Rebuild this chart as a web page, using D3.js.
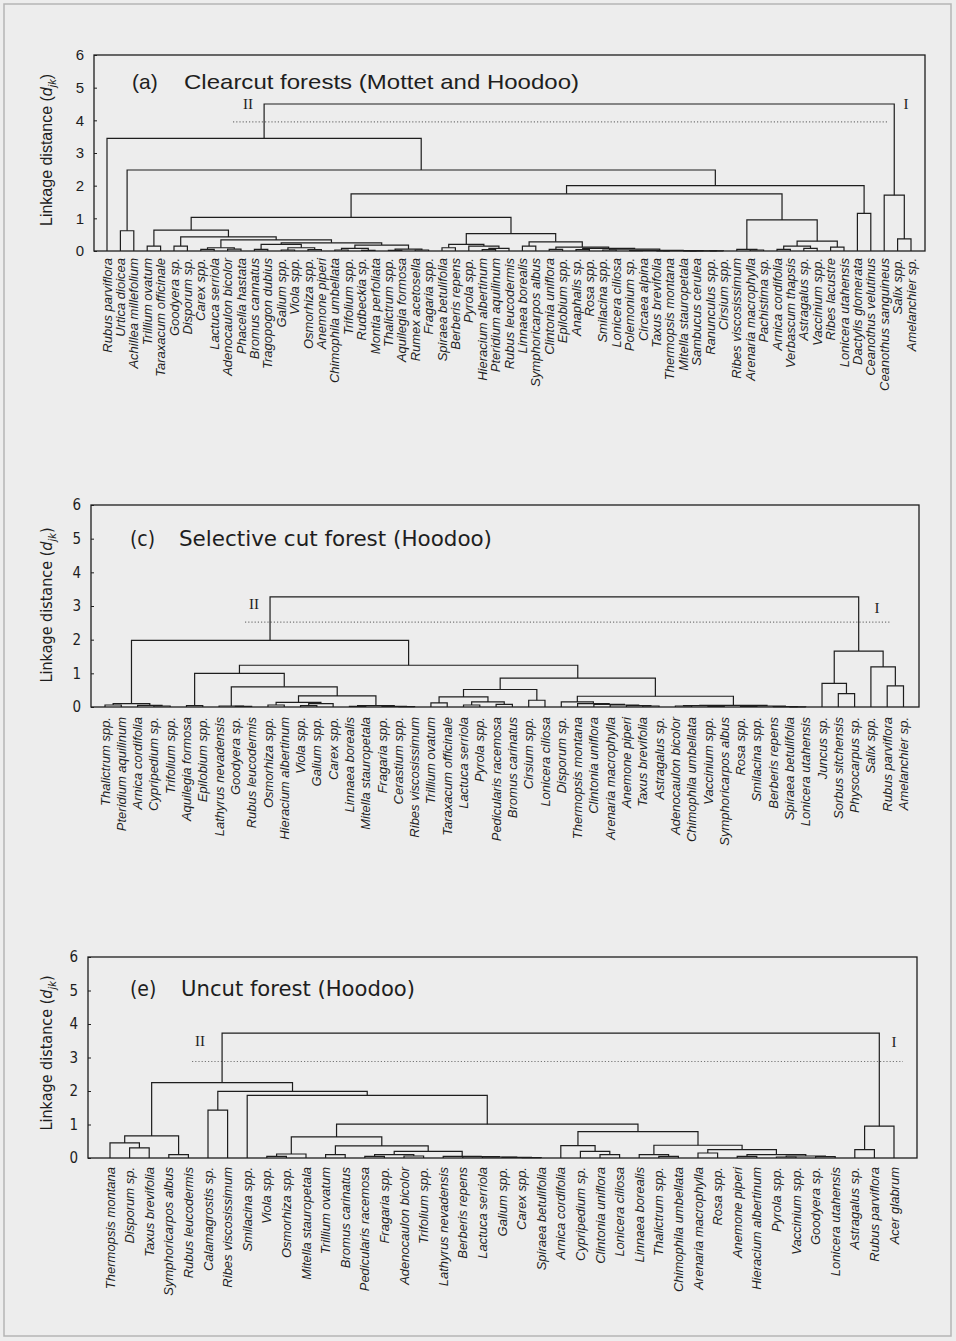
<!DOCTYPE html>
<html><head><meta charset="utf-8">
<script src="https://cdn.jsdelivr.net/npm/d3@7"></script>
<style>
body{margin:0;background:#ededed;}
svg{display:block;}
</style></head><body>
<svg id="chart" width="956" height="1341"></svg>
<script>
// ---------------- DATA ----------------
const yTicks = [0, 1, 2, 3, 4, 5, 6];
const panelTitles = ["Clearcut forests (Mottet and Hoodoo)", "Selective cut forest (Hoodoo)", "Uncut forest (Hoodoo)"];
const panelLetters = ["(a)", "(c)", "(e)"];
const cutHeights = [3.95, 2.52, 2.88];

const leavesA = ["Rubus parviflora","Urtica dioicea","Achillea millefolium","Trillium ovatum","Taraxacum officinale","Goodyera sp.","Disporum sp.","Carex spp.","Lactuca serriola","Adenocaulon bicolor","Phacelia hastata","Bromus cannatus","Tragopogon dubius","Galium spp.","Viola spp.","Osmorhiza spp.","Anemone piperi","Chimophila umbellata","Trifolium spp.","Rudbeckia sp.","Montia perfoliata","Thalictrum spp.","Aquilegia formosa","Rumex acetosella","Fragaria spp.","Spiraea betulifolia","Berberis repens","Pyrola spp.","Hieracium albertinum","Pteridium aquilinum","Rubus leucodermis","Linnaea borealis","Symphoricarpos albus","Clintonia uniflora","Epilobium spp.","Anaphalis sp.","Rosa spp.","Smilacina spp.","Lonicera ciliosa","Polemonium sp.","Circaea alpina","Taxus brevifolia","Thermopsis montana","Mitella stauropetala","Sambucus cerulea","Ranunculus spp.","Cirsium spp.","Ribes viscosissimum","Arenaria macrophylla","Pachistima sp.","Arnica cordifolia","Verbascum thapsis","Astragalus sp.","Vaccinium spp.","Ribes lacustre","Lonicera utahensis","Dactylis glomerata","Ceanothus velutinus","Ceanothus sanguineus","Salix spp.","Amelanchier sp."];

// [height, left, right]
const treeA = [4.5,
  [3.45, "Rubus parviflora",
    [2.48, [0.62, "Urtica dioicea", "Achillea millefolium"],
      [2.0,
        [1.75,
          [1.03,
            [0.64, [0.15, "Trillium ovatum", "Taraxacum officinale"],
              [0.43, [0.15, "Goodyera sp.", "Disporum sp."],
                [0.34,
                  [0.1, [0.05, "Carex spp.", "Lactuca serriola"], [0.06, "Adenocaulon bicolor", "Phacelia hastata"]],
                  [0.25,
                    [0.2, [0.05, "Bromus cannatus", "Tragopogon dubius"], [0.1, [0.03, "Galium spp.", "Viola spp."], [0.04, "Osmorhiza spp.", "Anemone piperi"]]],
                    [0.18, [0.08, [0.03, "Chimophila umbellata", "Trifolium spp."], [0.02, "Rudbeckia sp.", "Montia perfoliata"]], [0.06, [0.02, "Thalictrum spp.", "Aquilegia formosa"], [0.03, "Rumex acetosella", "Fragaria spp."]]]
                  ]
                ]
              ]
            ],
            [0.53,
              [0.2, [0.1, "Spiraea betulifolia", "Berberis repens"], [0.15, "Pyrola spp.", [0.08, [0.04, "Hieracium albertinum", "Pteridium aquilinum"], "Rubus leucodermis"]]],
              [0.28, [0.15, "Linnaea borealis", "Symphoricarpos albus"],
                [0.12, [0.05, "Clintonia uniflora", "Epilobium spp."], [0.08, [0.04, "Anaphalis sp.", "Rosa spp."], [0.06, [0.03, "Smilacina spp.", "Lonicera ciliosa"], [0.02, [0.01, "Polemonium sp.", "Circaea alpina"], [0.01, [0.005, "Taxus brevifolia", "Thermopsis montana"], [0.005, [0.003, "Mitella stauropetala", "Sambucus cerulea"], [0.003, "Ranunculus spp.", "Cirsium spp."]]]]]]]
              ]
            ]
          ],
          [0.95, [0.05, "Ribes viscosissimum", [0.03, "Arenaria macrophylla", "Pachistima sp."]],
            [0.3, [0.15, [0.05, "Arnica cordifolia", "Verbascum thapsis"], [0.08, "Astragalus sp.", "Vaccinium spp."]], [0.12, "Ribes lacustre", "Lonicera utahensis"]]]
        ],
        [1.15, "Dactylis glomerata", "Ceanothus velutinus"]
      ]
    ]
  ],
  [1.71, "Ceanothus sanguineus", [0.37, "Salix spp.", "Amelanchier sp."]]
];

const leavesC = ["Thalictrum spp.","Pteridium aquilinum","Arnica cordifolia","Cypripedium sp.","Trifolium spp.","Aquilegia formosa","Epilobium spp.","Lathyrus nevadensis","Goodyera sp.","Rubus leucodermis","Osmorhiza spp.","Hieracium albertinum","Viola spp.","Galium spp.","Carex spp.","Linnaea borealis","Mitella stauropetala","Fragaria spp.","Cerastium spp.","Ribes viscosissimum","Trillium ovatum","Taraxacum officinale","Lactuca serriola","Pyrola spp.","Pedicularis racemosa","Bromus carinatus","Cirsium spp.","Lonicera ciliosa","Disporum sp.","Thermopsis montana","Clintonia uniflora","Arenaria macrophylla","Anemone piperi","Taxus brevifolia","Astragalus sp.","Adenocaulon bicolor","Chimophila umbellata","Vaccinium spp.","Symphoricarpos albus","Rosa spp.","Smilacina spp.","Berberis repens","Spiraea betulifolia","Lonicera utahensis","Juncus sp.","Sorbus sitchensis","Physocarpus sp.","Salix spp.","Rubus parviflora","Amelanchier sp."];

const treeC = [3.27,
  [1.98,
    [0.1, [0.06, "Thalictrum spp.", "Pteridium aquilinum"], [0.05, "Arnica cordifolia", [0.03, "Cypripedium sp.", "Trifolium spp."]]],
    [1.24,
      [1.0,
        [0.04, "Aquilegia formosa", "Epilobium spp."],
        [0.6,
          [0.03, "Lathyrus nevadensis", [0.02, "Goodyera sp.", "Rubus leucodermis"]],
          [0.33,
            [0.14, [0.06, "Osmorhiza spp.", "Hieracium albertinum"], [0.1, [0.04, "Viola spp.", "Galium spp."], "Carex spp."]],
            [0.04, [0.02, "Linnaea borealis", "Mitella stauropetala"], [0.02, "Fragaria spp.", [0.01, "Cerastium spp.", "Ribes viscosissimum"]]]
          ]
        ]
      ],
      [0.86,
        [0.52,
          [0.3, [0.12, "Trillium ovatum", "Taraxacum officinale"], [0.15, [0.06, "Lactuca serriola", "Pyrola spp."], [0.08, "Pedicularis racemosa", "Bromus carinatus"]]],
          [0.2, "Cirsium spp.", "Lonicera ciliosa"]
        ],
        [0.32,
          [0.15, "Disporum sp.", [0.1, "Thermopsis montana", [0.08, "Clintonia uniflora", [0.06, "Arenaria macrophylla", [0.04, "Anemone piperi", [0.03, "Taxus brevifolia", "Astragalus sp."]]]]]],
          [0.05, [0.04, [0.03, "Adenocaulon bicolor", "Chimophila umbellata"], [0.02, "Vaccinium spp.", "Symphoricarpos albus"]], [0.03, [0.02, "Rosa spp.", "Smilacina spp."], [0.01, "Berberis repens", [0.005, "Spiraea betulifolia", "Lonicera utahensis"]]]]
        ]
      ]
    ]
  ],
  [1.66, [0.7, "Juncus sp.", [0.4, "Sorbus sitchensis", "Physocarpus sp."]], [1.19, "Salix spp.", [0.63, "Rubus parviflora", "Amelanchier sp."]]]
];

const leavesE = ["Thermopsis montana","Disporum sp.","Taxus brevifolia","Symphoricarpos albus","Rubus leucodermis","Calamagrostis sp.","Ribes viscosissimum","Smilacina spp.","Viola spp.","Osmorhiza spp.","Mitella stauropetala","Trillium ovatum","Bromus carinatus","Pedicularis racemosa","Fragaria spp.","Adenocaulon bicolor","Trifolium spp.","Lathyrus nevadensis","Berberis repens","Lactuca serriola","Galium spp.","Carex spp.","Spiraea betulifolia","Arnica cordifolia","Cypripedium sp.","Clintonia uniflora","Lonicera ciliosa","Linnaea borealis","Thalictrum spp.","Chimophila umbellata","Arenaria macrophylla","Rosa spp.","Anemone piperi","Hieracium albertinum","Pyrola spp.","Vaccinium spp.","Goodyera sp.","Lonicera utahensis","Astragalus sp.","Rubus parviflora","Acer glabrum"];

const treeE = [3.73,
  [2.25,
    [0.66, [0.45, "Thermopsis montana", [0.3, "Disporum sp.", "Taxus brevifolia"]], [0.1, "Symphoricarpos albus", "Rubus leucodermis"]],
    [1.99,
      [1.43, "Calamagrostis sp.", "Ribes viscosissimum"],
      [1.87, "Smilacina spp.",
        [1.01,
          [0.63,
            [0.12, [0.05, "Viola spp.", "Osmorhiza spp."], "Mitella stauropetala"],
            [0.36, [0.1, "Trillium ovatum", "Bromus carinatus"],
              [0.2, [0.1, [0.05, "Pedicularis racemosa", "Fragaria spp."], [0.06, "Adenocaulon bicolor", "Trifolium spp."]],
                [0.05, "Lathyrus nevadensis", [0.04, "Berberis repens", [0.03, "Lactuca serriola", [0.02, "Galium spp.", [0.01, "Carex spp.", "Spiraea betulifolia"]]]]]]]
          ],
          [0.79,
            [0.37, "Arnica cordifolia", [0.2, "Cypripedium sp.", [0.1, "Clintonia uniflora", "Lonicera ciliosa"]]],
            [0.38, [0.1, "Linnaea borealis", [0.05, "Thalictrum spp.", "Chimophila umbellata"]],
              [0.25, [0.15, "Arenaria macrophylla", "Rosa spp."], [0.1, [0.05, "Anemone piperi", "Hieracium albertinum"], [0.06, [0.03, "Pyrola spp.", "Vaccinium spp."], [0.04, "Goodyera sp.", "Lonicera utahensis"]]]]]
          ]
        ]
      ]
    ]
  ],
  [0.95, [0.25, "Astragalus sp.", "Rubus parviflora"], "Acer glabrum"]
];

// ---------------- LAYOUT ----------------
const panels = [
  {leaves: leavesA, tree: treeA, frame: [94, 925], leafX: [107, 911], yR: [251, 55],
   labelGap: 7, titleY: 89, romanII: [248, 4.35], romanI: [906, 4.35], cutX: [233, 887], axisTitleY: 150, narrow: false,
   titleX: [132, 184], titleW: 395},
  {leaves: leavesC, tree: treeC, frame: [91, 919], leafX: [105, 903.5], yR: [707, 505],
   labelGap: 10, titleY: 546, romanII: [254, 2.9], romanI: [877, 2.8], cutX: [245, 891], axisTitleY: 605, narrow: true,
   titleX: [130, 179], titleW: 313},
  {leaves: leavesE, tree: treeE, frame: [88, 917], leafX: [110, 894], yR: [1158, 957],
   labelGap: 9, titleY: 996, romanII: [200, 3.33], romanI: [894, 3.3], cutX: [192, 903], axisTitleY: 1053, narrow: true,
   titleX: [130, 181], titleW: 234}
];

const svg = d3.select("#chart");
svg.append("rect").attr("x", 4).attr("y", 4).attr("width", 947).attr("height", 1332)
  .attr("fill", "none").attr("stroke", "#b5b5b5").attr("stroke-width", 1.5);

const ink = "#1e1e1e";
const sans = "'Liberation Sans', Arial, sans-serif";
const narrow = "'Liberation Sans Narrow', 'Arial Narrow', 'DejaVu Sans Condensed', sans-serif";

panels.forEach((p, i) => {
  const g = svg.append("g");
  const x = d3.scalePoint().domain(p.leaves).range(p.leafX);
  const y = d3.scaleLinear().domain([0, 6]).range(p.yR);

  // frame
  g.append("rect").attr("x", p.frame[0]).attr("y", y(6))
    .attr("width", p.frame[1] - p.frame[0]).attr("height", y(0) - y(6))
    .attr("fill", "none").attr("stroke", ink).attr("stroke-width", 1.3);

  // axis
  const ax = g.append("g").attr("transform", `translate(${p.frame[0]},0)`)
    .call(d3.axisLeft(y).tickValues(yTicks).tickSize(3).tickPadding(7).tickFormat(d3.format("d")));
  ax.select(".domain").remove();
  ax.selectAll("line").attr("stroke", ink).attr("transform", "translate(3,0)");
  ax.selectAll("text").attr("font-family", p.narrow ? narrow : sans).attr("font-size", 15).attr("fill", ink);

  // axis title
  const at = g.append("text").attr("transform", `translate(52,${p.axisTitleY}) rotate(-90)`)
    .attr("text-anchor", "middle").attr("font-family", p.narrow ? narrow : sans).attr("font-size", 16).attr("fill", ink);
  at.append("tspan").text("Linkage distance  (");
  at.append("tspan").attr("font-style", "italic").text("d");
  at.append("tspan").attr("font-style", "italic").attr("font-size", 11).attr("dy", 4).text("jk");
  at.append("tspan").attr("dy", -4).text(")");

  // title
  g.append("text").attr("x", p.titleX[0]).attr("y", p.titleY).attr("font-family", p.narrow ? narrow : sans)
    .attr("font-size", 21).attr("fill", ink).text(panelLetters[i]);
  g.append("text").attr("x", p.titleX[1]).attr("y", p.titleY).attr("font-family", p.narrow ? narrow : sans)
    .attr("font-size", 21).attr("fill", ink).attr("textLength", p.titleW).attr("lengthAdjust", "spacingAndGlyphs")
    .text(panelTitles[i]);

  // cut line
  g.append("line").attr("x1", p.cutX[0]).attr("x2", p.cutX[1]).attr("y1", y(cutHeights[i])).attr("y2", y(cutHeights[i]))
    .attr("stroke", "#777").attr("stroke-width", 1.2).attr("stroke-dasharray", "1.2,2");

  // roman numerals
  g.append("text").attr("x", p.romanII[0]).attr("y", y(p.romanII[1])).attr("text-anchor", "middle")
    .attr("font-family", "'Liberation Serif', 'Times New Roman', serif").attr("font-size", 15).attr("fill", ink).text("II");
  g.append("text").attr("x", p.romanI[0]).attr("y", y(p.romanI[1])).attr("text-anchor", "middle")
    .attr("font-family", "'Liberation Serif', 'Times New Roman', serif").attr("font-size", 15).attr("fill", ink).text("I");

  // dendrogram via d3.hierarchy
  const root = d3.hierarchy(p.tree, d => Array.isArray(d) ? d.slice(1) : null);
  root.eachAfter(n => {
    if (n.children) { n.h = n.data[0]; n.px = (n.children[0].px + n.children[1].px) / 2; }
    else { n.h = 0; n.px = x(n.data); }
  });
  const internal = root.descendants().filter(n => n.children);
  g.append("g").selectAll("path").data(internal).join("path")
    .attr("d", n => {
      const [a, b] = n.children;
      return `M${a.px},${y(a.h)}V${y(n.h)}H${b.px}V${y(b.h)}`;
    })
    .attr("fill", "none").attr("stroke", ink).attr("stroke-width", 1.2);

  // leaf labels
  g.append("g").selectAll("text").data(p.leaves).join("text")
    .attr("transform", d => `translate(${x(d)},${y(0) + p.labelGap}) rotate(-90)`)
    .attr("dy", "0.35em").attr("text-anchor", "end")
    .attr("font-family", sans).attr("font-style", "italic").attr("font-size", 13).attr("fill", ink)
    .text(d => d);
});
</script>
</body></html>
